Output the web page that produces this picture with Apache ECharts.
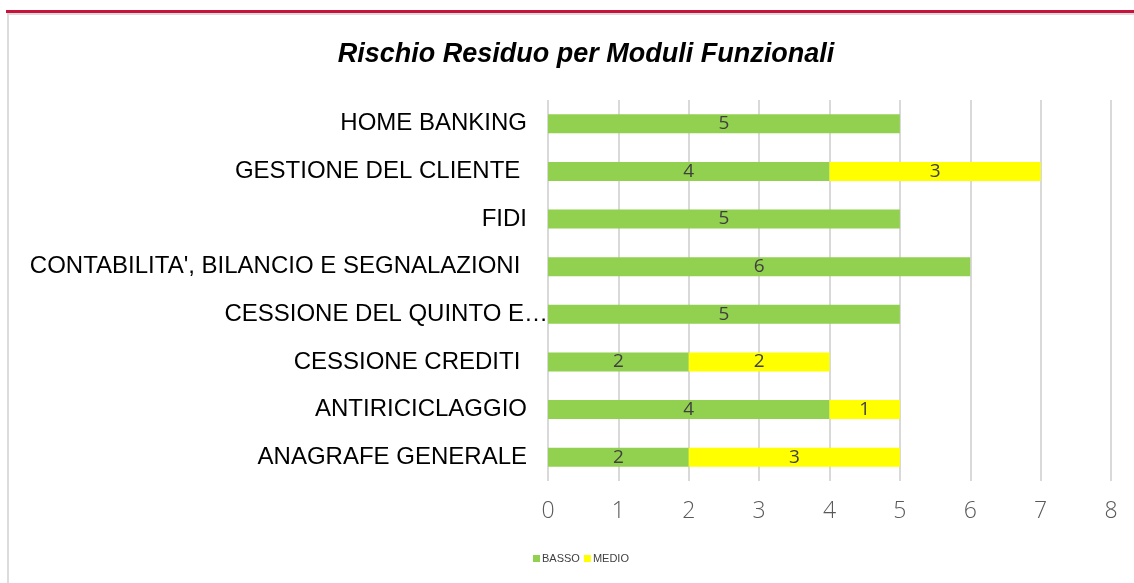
<!DOCTYPE html>
<html>
<head>
<meta charset="utf-8">
<script src="https://cdn.jsdelivr.net/npm/echarts@6/dist/echarts.min.js"></script>
<style>
  html, body { margin: 0; padding: 0; background: #fff; }
  #wrap { position: relative; width: 1134px; height: 583px; overflow: hidden; }
  #redline { position: absolute; left: 6px; right: 0; top: 10px; height: 3px; background: #c8143c; }
  #frame { position: absolute; left: 7px; right: -4px; top: 13px; bottom: -4px; border-top: 2px solid #dcdcdc; border-left: 2px solid #dcdcdc; }
  #chart { position: absolute; left: 0; top: 0; width: 1134px; height: 583px; }
</style>
</head>
<body>
<div id="wrap">
  <div id="redline"></div>
  <div id="frame"></div>
  <div id="chart"></div>
</div>
<script>
// categories, bottom to top
const categories = [
  "ANAGRAFE GENERALE",
  "ANTIRICICLAGGIO",
  "CESSIONE CREDITI ",
  "CESSIONE DEL QUINTO E…",
  "CONTABILITA', BILANCIO E SEGNALAZIONI ",
  "FIDI",
  "GESTIONE DEL CLIENTE ",
  "HOME BANKING",
];
const basso = [2, 4, 2, 5, 6, 5, 4, 5];
const medio = [3, 1, 2, null, null, null, 3, null];
const xTicks = [0, 1, 2, 3, 4, 5, 6, 7, 8];

const chart = echarts.init(document.getElementById("chart"));

const labelStyle = {
  show: true,
  position: "inside",
  color: "#404040",
  fontSize: 19,
  fontFamily: "Open Sans, Liberation Sans, sans-serif",
  fontWeight: "normal",
};

chart.setOption({
  animation: false,
  title: {
    text: "Rischio Residuo per Moduli Funzionali",
    left: 581,
    textAlign: "center",
    top: 36,
    textStyle: {
      fontFamily: "Liberation Sans, Arial, sans-serif",
      fontSize: 27,
      fontWeight: "bold",
      fontStyle: "italic",
      color: "#000",
    },
  },
  legend: {
    top: 548,
    left: 528,
    itemWidth: 7,
    itemHeight: 7,
    itemGap: 4,
    icon: "rect",
    textStyle: {
      fontSize: 11,
      color: "#404040",
      fontFamily: "Liberation Sans, Arial, sans-serif",
      padding: [0, 0, 0, -3],
    },
    data: ["BASSO", "MEDIO"],
  },
  grid: { left: 548, right: 23, top: 100, bottom: 102, containLabel: false },
  xAxis: {
    type: "value",
    min: xTicks[0],
    max: xTicks[xTicks.length - 1],
    interval: 1,
    axisLine: { show: false },
    axisTick: { show: false },
    axisLabel: {
      margin: 19,
      fontSize: 23,
      color: "#595959",
      fontFamily: "Open Sans, Liberation Sans, sans-serif",
      fontWeight: 300,
    },
    splitLine: { lineStyle: { color: "#d9d9d9", width: 2 } },
  },
  yAxis: {
    type: "category",
    data: categories,
    axisLine: { show: false },
    axisTick: { show: false },
    axisLabel: {
      margin: 21,
      fontSize: 24,
      color: "#000",
      fontFamily: "Liberation Sans, Arial, sans-serif",
      formatter: (v) => (v.endsWith("…") ? "{q|" + v + "}" : v),
      rich: {
        q: {
          fontSize: 24,
          color: "#000",
          fontFamily: "Liberation Sans, Arial, sans-serif",
          padding: [0, -21, 0, 0],
        },
      },
    },
  },
  series: [
    {
      name: "BASSO",
      type: "bar",
      stack: "r",
      data: basso,
      barWidth: 19,
      itemStyle: { color: "#92d050" },
      label: labelStyle,
    },
    {
      name: "MEDIO",
      type: "bar",
      stack: "r",
      data: medio,
      barWidth: 19,
      itemStyle: { color: "#ffff00" },
      label: labelStyle,
    },
  ],
});

window.addEventListener("resize", () => {
  chart.resize();
});
</script>
</body>
</html>
